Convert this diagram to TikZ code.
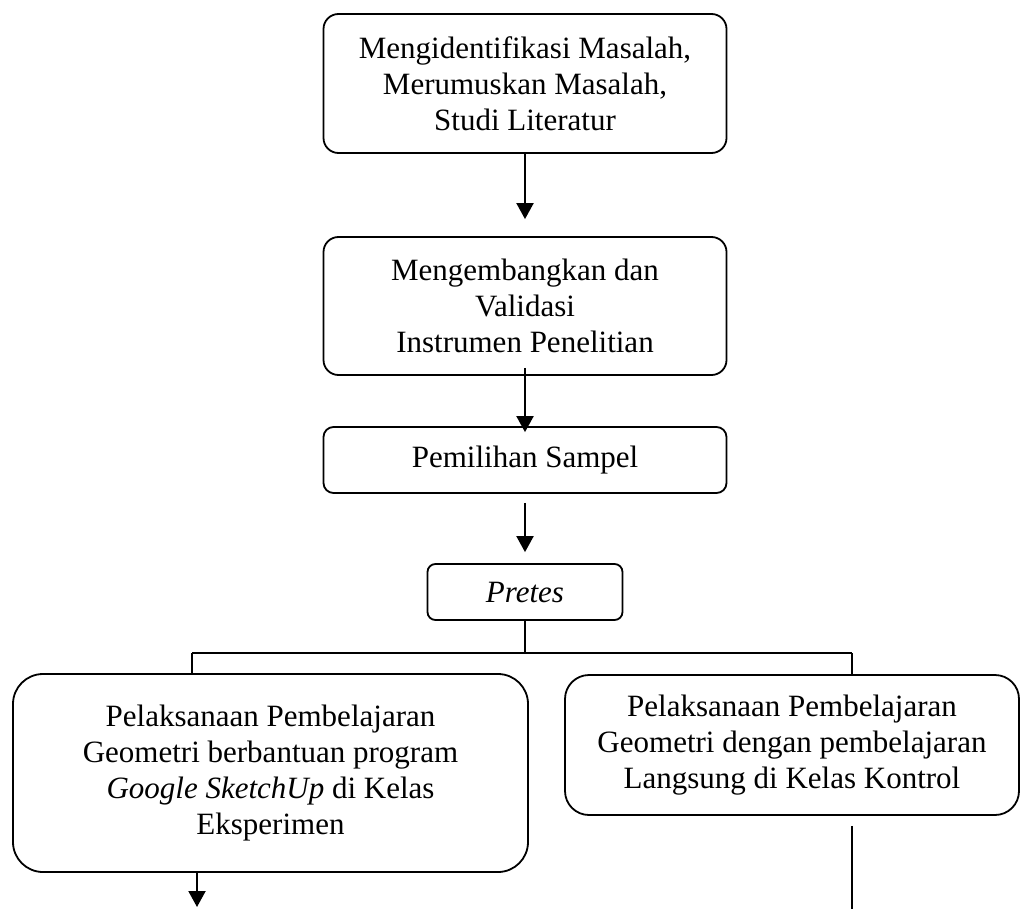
\documentclass[tikz,border=0pt]{standalone}
\usepackage{fontspec}
\setmainfont{Liberation Serif}
\usetikzlibrary{arrows.meta}

\begin{document}
\begin{tikzpicture}[x=0.5pt,y=-0.5pt,
	box/.style={draw=black,line width=0.9pt,rounded corners=7.5pt,align=center,inner sep=0pt,font=\fontsize{15.5}{18}\selectfont},
	arr/.style={line width=1pt,-{Triangle[length=8pt,width=8.5pt]}},
	ln/.style={line width=1pt}]
	\useasboundingbox (0,0) rectangle (1020,909);
	% alur penelitian
	\node [box,minimum width=201.5pt,minimum height=69.5pt] (masalah) at (525,83.5) {Mengidentifikasi Masalah,\\Merumuskan Masalah,\\Studi Literatur};
	\node [box,minimum width=201.5pt,minimum height=69pt] (instrumen) at (525,306) {Mengembangkan dan\\Validasi\\Instrumen Penelitian};
	\node [box,minimum width=201.5pt,minimum height=33pt,rounded corners=5pt] (sampel) at (525,460) {Pemilihan Sampel};
	\node [box,minimum width=97.5pt,minimum height=28pt,rounded corners=4pt] (pretes) at (525,592) {\textit{Pretes}};
	\node [box,minimum width=257.5pt,minimum height=99pt,rounded corners=15pt] (eksperimen) at (270.5,773) {Pelaksanaan Pembelajaran\\Geometri berbantuan program\\\textit{Google SketchUp} di Kelas\\Eksperimen};
	\node [box,minimum width=227pt,minimum height=70pt,rounded corners=12pt] (kontrol) at (792,745) {Pelaksanaan Pembelajaran\\Geometri dengan pembelajaran\\Langsung di Kelas Kontrol};
	% percabangan
	\coordinate (cabang) at (525,653);
	\coordinate (cabangL) at (192,653);
	\coordinate (cabangR) at (852,653);
	\coordinate (akhirL) at (197,907);
	\coordinate (akhirR) at (852,909);
	% panah
	\draw [arr,shorten >=8.5pt] (masalah) -- (instrumen);
	\draw [arr,shorten <=-4pt,shorten >=-3pt] (instrumen) -- (sampel);
	\draw [arr,shorten <=4.5pt,shorten >=5.5pt] (sampel) -- (pretes);
	\draw [ln] (pretes) -- (cabang);
	\draw [ln] (cabangL) -- (cabangR);
	\draw [ln] (cabangL) -- (cabangL |- eksperimen.north);
	\draw [ln] (cabangR) -- (cabangR |- kontrol.north);
	\draw [arr] (akhirL |- eksperimen.south) -- (akhirL);
	\draw [ln,shorten <=5pt] (akhirR |- kontrol.south) -- (akhirR);
\end{tikzpicture}
\end{document}
